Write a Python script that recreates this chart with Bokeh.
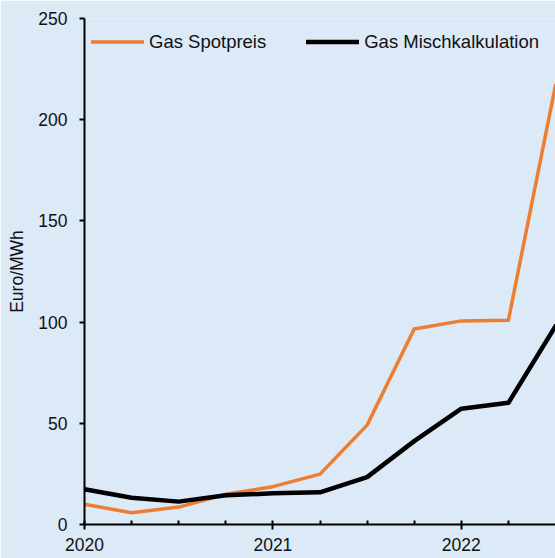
from bokeh.plotting import figure
from bokeh.models import FixedTicker, Legend, LegendItem
from bokeh.embed import file_html
from bokeh.resources import INLINE

# Data (quarterly)
quarters = [2020.0, 2020.25, 2020.5, 2020.75, 2021.0, 2021.25, 2021.5, 2021.75, 2022.0, 2022.25, 2022.5]
spot = [10.0, 5.8, 8.6, 14.9, 18.7, 24.9, 49.1, 96.6, 100.6, 100.9, 217.0]
misch = [17.4, 13.2, 11.3, 14.4, 15.4, 15.9, 23.4, 41.2, 57.2, 60.1, 98.0]
series_names = ["Gas Spotpreis", "Gas Mischkalkulation"]
year_ticks = [2020, 2021, 2022]
quarter_ticks = [2020.25, 2020.5, 2020.75, 2021.25, 2021.5, 2021.75, 2022.25]
y_ticks = [0, 50, 100, 150, 200, 250]
y_label = "Euro/MWh"

BG = "#dce9f7"
FONT = "Liberation Sans"

p = figure(width=555, height=558, x_range=(2020, 2022.5), y_range=(0, 250),
           output_backend="svg", toolbar_location=None,
           min_border_left=84, min_border_right=0, min_border_top=18, min_border_bottom=34)
p.background_fill_color = BG
p.border_fill_color = BG
p.outline_line_color = None
p.xgrid.grid_line_color = None
p.ygrid.grid_line_color = None

r1 = p.line(quarters, spot, line_color="#ed7d31", line_width=3.5, line_join="round", line_cap="round")
r2 = p.line(quarters, misch, line_color="#000000", line_width=4.5, line_join="round", line_cap="round")

legend = Legend(items=[LegendItem(label=series_names[0], renderers=[r1]),
                       LegendItem(label=series_names[1], renderers=[r2])],
                location="top_left", orientation="horizontal")
legend.margin = 7
legend.padding = 8
legend.spacing = 40
legend.glyph_width = 53
legend.glyph_height = 33
legend.label_height = 33
legend.label_standoff = 5
legend.label_text_font = FONT
legend.label_text_font_size = "18.5px"
legend.label_text_color = "#111111"
legend.background_fill_alpha = 0
legend.border_line_color = None
p.add_layout(legend)

# X axis
xa = p.xaxis[0]
xa.ticker = FixedTicker(ticks=year_ticks, minor_ticks=quarter_ticks)
xa.axis_line_width = 2
xa.axis_line_color = "black"
xa.major_tick_line_width = 2
xa.major_tick_line_color = "black"
xa.major_tick_in = 4
xa.major_tick_out = 5
xa.minor_tick_line_width = 2
xa.minor_tick_line_color = "black"
xa.minor_tick_in = 4
xa.minor_tick_out = 0
xa.major_label_text_font = FONT
xa.major_label_text_font_size = "17.5px"
xa.major_label_text_color = "#111111"
xa.major_label_standoff = 8
xa.major_label_overrides = {2020: "2020", 2021: "2021", 2022: "2022"}

# Y axis
ya = p.yaxis[0]
ya.ticker = FixedTicker(ticks=y_ticks, minor_ticks=[])
ya.axis_line_width = 2
ya.axis_line_color = "black"
ya.major_tick_line_width = 2
ya.major_tick_line_color = "black"
ya.major_tick_in = 0
ya.major_tick_out = 5
ya.minor_tick_line_color = None
ya.major_label_text_font = FONT
ya.major_label_text_font_size = "17.5px"
ya.major_label_text_color = "#111111"
ya.major_label_standoff = 12
ya.axis_label = y_label
ya.axis_label_text_font = FONT
ya.axis_label_text_font_size = "17.5px"
ya.axis_label_text_font_style = "normal"
ya.axis_label_text_color = "#111111"
ya.axis_label_standoff = 8

open("out.html", "w").write(file_html(p, INLINE))
